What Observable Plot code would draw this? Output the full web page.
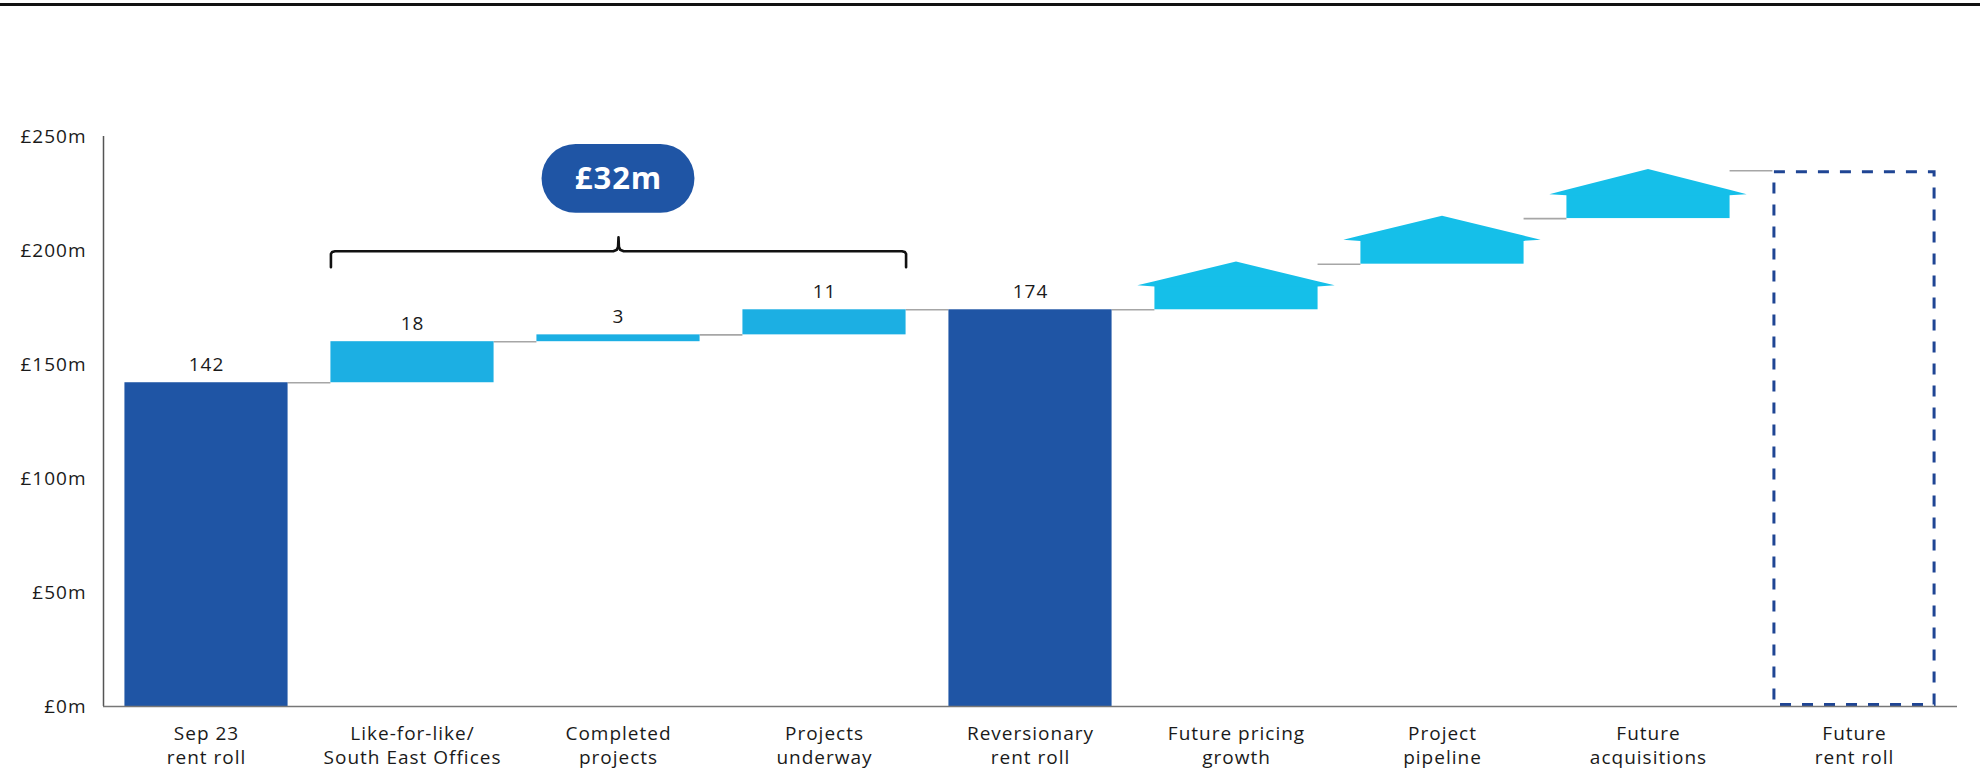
<!DOCTYPE html>
<html>
<head>
<meta charset="utf-8">
<script src="https://cdn.jsdelivr.net/npm/d3@7"></script>
<script src="https://cdn.jsdelivr.net/npm/@observablehq/plot@0.6"></script>
<style>
  html, body { margin: 0; padding: 0; background: #fff; }
  #wrap { position: relative; width: 1980px; height: 770px; }
  #topline { position: absolute; left: 0; top: 3px; width: 1980px; height: 3px; background: #111; }
  svg { font-family: "Open Sans", "DejaVu Sans", sans-serif; }
</style>
</head>
<body>
<div id="wrap"><div id="topline"></div><div id="chart"></div></div>
<script>
// ---- data ----
const categories = ["Sep 23\nrent roll", "Like-for-like/\nSouth East Offices", "Completed\nprojects", "Projects\nunderway", "Reversionary\nrent roll", "Future pricing\ngrowth", "Project\npipeline", "Future\nacquisitions", "Future\nrent roll"];
const kinds = ["total", "step", "step", "step", "total", "future", "future", "future", "outline"];
const baseValues = [0, 142, 160, 163, 0, 174, 194, 214, 0];
const topValues = [142, 160, 163, 174, 174, 184.5, 204.5, 224.5, 235];
const tipValues = [null, null, null, null, null, 195, 215, 235.5, null];
const valueLabels = ["142", "18", "3", "11", "174", "", "", "", ""];
const connectorLevels = [142, 160, 163, 174, 174, 194, 214, 235];
const yTicks = [0, 50, 100, 150, 200, 250];
const braceFrom = 1, braceTo = 3, braceLevel = 199.7, braceEnd = 192.7, bracePeak = 205.8;
const badgeText = "£32m", badgeLow = 216.3, badgeHigh = 246.5;

// ---- styles ----
const dark = "#1F55A5", light = "#1CAFE3", arrow = "#15BFE9", dash = "#1F4594", conn = "#A6A6A6";
const hw = 0.396, flange = 0.083, seam = 0.5;
const xDomain = [-0.5, categories.length - 0.5];

const rows = categories.map((c, i) => ({i, c, kind: kinds[i], base: baseValues[i], top: topValues[i], tip: tipValues[i], label: valueLabels[i]}));
const solid = rows.filter(d => d.kind === "total" || d.kind === "step");
const future = rows.filter(d => d.kind === "future");
const outline = rows.filter(d => d.kind === "outline");
const heads = future.flatMap(d => [
  {i: d.i, x: d.i - hw - flange, y1: d.top, y2: d.top},
  {i: d.i, x: d.i - hw, y1: d.top - seam, y2: d.top + (d.tip - d.top) * (flange / (hw + flange))},
  {i: d.i, x: d.i, y1: d.top - seam, y2: d.tip},
  {i: d.i, x: d.i + hw, y1: d.top - seam, y2: d.top + (d.tip - d.top) * (flange / (hw + flange))},
  {i: d.i, x: d.i + hw + flange, y1: d.top, y2: d.top}
]);
const connectors = connectorLevels.map((level, i) => ({i, level}));
const labeled = rows.filter(d => d.label);

const bMid = (braceFrom + braceTo) / 2;
const bL = braceFrom - hw, bR = braceTo + hw;
const r = 0.02, rv = 1.2;
const brace = [
  [bL, braceEnd], [bL, braceLevel - rv], [bL + r * 0.3, braceLevel - rv * 0.3], [bL + r, braceLevel],
  [bMid - 0.025, braceLevel], [bMid - 0.008, braceLevel + 0.6], [bMid - 0.002, braceLevel + 2], [bMid, bracePeak],
  [bMid + 0.002, braceLevel + 2], [bMid + 0.008, braceLevel + 0.6], [bMid + 0.025, braceLevel],
  [bR - r, braceLevel], [bR - r * 0.3, braceLevel - rv * 0.3], [bR, braceLevel - rv], [bR, braceEnd]
].map(([x, y]) => ({x, y}));
const badge = [{x: bMid, text: badgeText}];

const chart = Plot.plot({
  width: 1980,
  height: 770,
  marginTop: 136,
  marginBottom: 64,
  marginLeft: 103,
  marginRight: 23,
  style: {fontFamily: '"Open Sans", sans-serif', fontSize: "19px", color: "#1a1a1a", letterSpacing: "1px"},
  x: {type: "linear", domain: xDomain},
  y: {domain: [0, 250]},
  marks: [
    Plot.axisY({ticks: yTicks, tickFormat: d => `£${d}m`, tickSize: 0, tickPadding: 17, fontSize: 19}),
    Plot.axisX({ticks: d3.range(categories.length), tickFormat: i => categories[i], tickSize: 0, tickPadding: 16, fontSize: 19, lineHeight: 1.27}),
    Plot.ruleY(connectors, {y: "level", x1: d => d.i + hw, x2: d => d.i + 1 - hw, stroke: conn, strokeWidth: 1.6}),
    Plot.rect(solid, {x1: d => d.i - hw, x2: d => d.i + hw, y1: "base", y2: "top", fill: d => d.kind === "total" ? dark : light}),
    Plot.rect(future, {x1: d => d.i - hw, x2: d => d.i + hw, y1: "base", y2: "top", fill: arrow}),
    Plot.areaY(heads, {x: "x", y1: "y1", y2: "y2", z: "i", fill: arrow}),
    Plot.rect(outline, {x1: d => d.i - hw, x2: d => d.i + hw, y1: "base", y2: "top", fill: "none", stroke: dash, strokeWidth: 3, strokeDasharray: "11,11", inset: 1.5}),
    Plot.text(labeled, {x: "i", y: "top", text: "label", dy: -18, fontSize: 19, fill: "#1a1a1a"}),
    Plot.line(brace, {x: "x", y: "y", stroke: "#111", strokeWidth: 2.6}),
    Plot.rect(badge, {x1: d => d.x - 0.371, x2: d => d.x + 0.371, y1: badgeLow, y2: badgeHigh, rx: 34, fill: dark}),
    Plot.text(badge, {x: "x", y: (badgeLow + badgeHigh) / 2, text: "text", fill: "white", fontWeight: "bold", fontSize: 31, letterSpacing: "0.5px"}),
    Plot.ruleX([xDomain[0]], {y1: 0, y2: 250, stroke: "#555", strokeWidth: 1.5}),
    Plot.ruleY([0], {stroke: "#777", strokeWidth: 1.5})
  ]
});
document.getElementById("chart").appendChild(chart);
</script>
</body>
</html>
